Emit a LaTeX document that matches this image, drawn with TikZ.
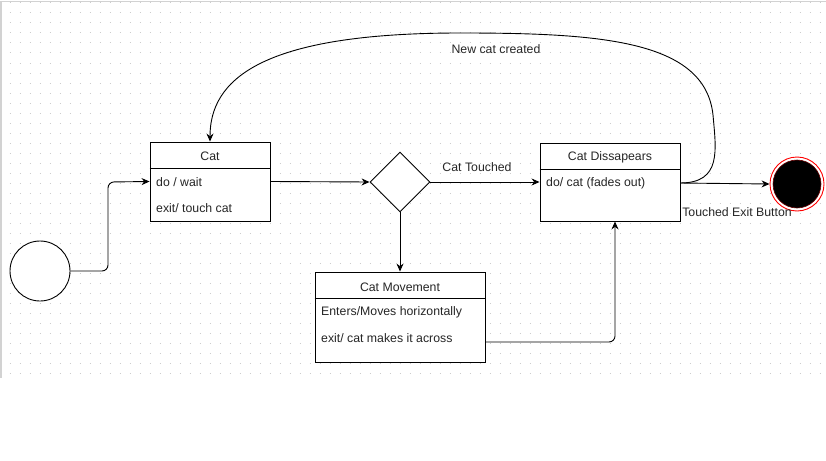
\documentclass[tikz,border=0pt]{standalone}
\usepackage{fontspec}
\setmainfont{Liberation Sans}
\usetikzlibrary{arrows.meta,shapes.geometric}
\begin{document}
\begin{tikzpicture}[x=1pt,y=-1pt,
  font=\fontsize{12.3}{14}\selectfont,
  statebox/.style={draw, line width=0.9pt, fill=white, inner sep=0pt},
  txt/.style={text=black!85, inner sep=0pt},
  conn/.style={line width=0.9pt, rounded corners=6pt, -{Stealth[length=8pt,width=7pt]}},
  plain/.style={line width=0.9pt}]
\useasboundingbox (0,0) rectangle (826,460);
% grid background
\foreach \yy in {3,13,...,373}
  \draw[gray!40, line width=1pt, dash pattern=on 1pt off 9pt] (9.5,\yy) -- (826,\yy);
\draw[gray!35, line width=1.5pt] (0,1.5) -- (826,1.5);
\draw[gray!35, line width=1.5pt] (1,1.5) -- (1,378);
% initial state
\node[draw, circle, line width=0.9pt, fill=white, minimum size=60pt, inner sep=0pt] (init) at (40,271) {};
% Cat
\node[statebox, minimum width=120pt, minimum height=79pt] (cat) at (210,181.5) {};
\draw[plain] (cat.west |- 0,168) -- (cat.east |- 0,168);
\node[txt] (catT) at (210,156) {Cat};
\node[txt, anchor=west] (cat1) at (156,182) {do / wait};
\node[txt, anchor=west] (cat2) at (156,208) {exit/ touch cat};
% decision
\node[draw, diamond, line width=0.9pt, fill=white, minimum width=60pt, minimum height=60pt, inner sep=0pt] (dec) at (400,182) {};
% Cat Movement
\node[statebox, minimum width=170pt, minimum height=90pt] (mov) at (400,317) {};
\draw[plain] (mov.west |- 0,298) -- (mov.east |- 0,298);
\node[txt] (movT) at (400,287) {Cat Movement};
\node[txt, anchor=west] (mov1) at (321,312) {Enters/Moves horizontally};
\node[txt, anchor=west] (mov2) at (321,338) {exit/ cat makes it across};
% Cat Dissapears
\node[statebox, minimum width=140pt, minimum height=78pt] (dis) at (610,182) {};
\draw[plain] (dis.west |- 0,169) -- (dis.east |- 0,169);
\node[txt] (disT) at (610,157) {Cat Dissapears};
\node[txt, anchor=west] (dis1) at (546,183) {do/ cat (fades out)};
% final state
\node[circle, draw=red, line width=0.9pt, fill=white, minimum size=54pt, inner sep=0pt] (fin) at (797,184) {};
\node[circle, fill=black, draw=red!40!black, line width=0.6pt, minimum size=48pt, inner sep=0pt] (finin) at (fin.center) {};
% connectors
\coordinate (movout) at (485,342);
\coordinate (disout) at (680,183);
\draw[conn] (init.east) -- (108,271) -- (108,182) -- (cat.west);
\draw[conn] (cat.east) -- (dec.west);
\draw[conn] (dec.east) -- (dis.west);
\draw[conn] (dec.south) -- (mov.north);
\draw[conn] (movout) -- (615,342) -- (dis.south -| 615,0);
\draw[conn] (disout) -- (fin.west);
\draw[line width=0.9pt, -{Stealth[length=8pt,width=7pt]}] (disout)
  .. controls (722,183) and (716,150) .. (713,115)
  .. controls (705,40) and (600,33) .. (460,33)
  .. controls (260,33) and (210,80) .. (cat.north);
% labels
\node[txt] (lblNew) at (496,49) {New cat created};
\node[txt] (lblTouch) at (477,167) {Cat Touched};
\node[txt] (lblExit) at (737,212) {Touched Exit Button};
\end{tikzpicture}
\end{document}
